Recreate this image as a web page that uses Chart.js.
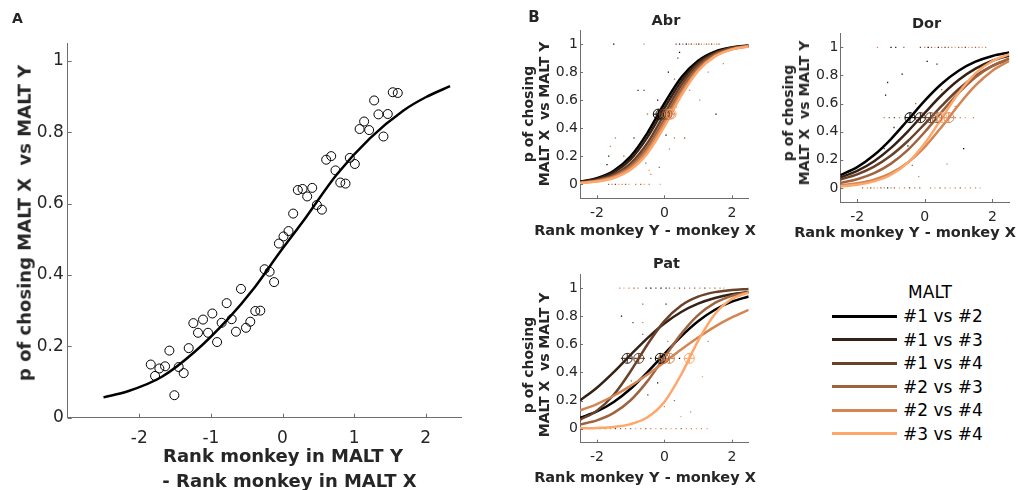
<!DOCTYPE html>
<html>
<head>
<meta charset="utf-8">
<script src="https://cdn.jsdelivr.net/npm/chart.js@4/dist/chart.umd.min.js"></script>
<style>
body { margin:0; background:#fff; width:1018px; height:490px; position:relative; overflow:hidden; font-family:"DejaVu Sans", Verdana, sans-serif; color:#262626; }
canvas { position:absolute; }
.t { position:absolute; transform:translate(-50%,-50%); white-space:pre; line-height:1.15; text-align:center; }
.b { font-weight:bold; }
.rot { transform:translate(-50%,-50%) rotate(-90deg); }
.ll { position:absolute; height:3px; left:832px; width:65px; }
.lt { position:absolute; left:903px; transform:translate(0,-50%); font-size:17px; white-space:pre; color:#000; }
</style>
</head>
<body>
<canvas id="chartA" width="480" height="490" style="left:0;top:0"></canvas>
<canvas id="chartAbr" width="260" height="250" style="left:500px;top:0"></canvas>
<canvas id="chartDor" width="258" height="250" style="left:760px;top:0"></canvas>
<canvas id="chartPat" width="260" height="240" style="left:500px;top:250px"></canvas>

<div class="t b" style="left:17.5px;top:18px;font-size:14px">A</div>
<div class="t b" style="left:534px;top:17.5px;font-size:15px">B</div>

<div class="t b rot" style="left:25px;top:223px;font-size:18px">p of chosing MALT X  vs MALT Y</div>
<div class="t b" style="left:283px;top:456px;font-size:18px">Rank monkey in MALT Y</div>
<div class="t b" style="left:289.5px;top:481px;font-size:18px">- Rank monkey in MALT X</div>

<div class="t b" style="left:666px;top:20px;font-size:14.5px">Abr</div>
<div class="t b" style="left:926.5px;top:22.5px;font-size:14.5px">Dor</div>
<div class="t b" style="left:666.5px;top:263px;font-size:14.5px">Pat</div>

<div class="t b rot" style="left:535.5px;top:114px;font-size:14px;line-height:16px">p of chosing<br>MALT X  vs MALT Y</div>
<div class="t b rot" style="left:795.5px;top:113px;font-size:14px;line-height:16px">p of chosing<br>MALT X  vs MALT Y</div>
<div class="t b rot" style="left:535.5px;top:365px;font-size:14px;line-height:16px">p of chosing<br>MALT X  vs MALT Y</div>

<div class="t b" style="left:645px;top:230px;font-size:14.5px">Rank monkey Y - monkey X</div>
<div class="t b" style="left:905px;top:231.7px;font-size:14.5px">Rank monkey Y - monkey X</div>
<div class="t b" style="left:645px;top:476.7px;font-size:14.5px">Rank monkey Y - monkey X</div>

<div id="legend"></div>

<script>
// ---- data ----
// panel A: pooled choice data and fitted curve
const aDiff = [-1.84, -1.78, -1.72, -1.64, -1.58, -1.51, -1.45, -1.38, -1.31, -1.245, -1.18, -1.11, -1.04, -0.98, -0.914, -0.85, -0.78, -0.71, -0.65, -0.58, -0.51, -0.45, -0.38, -0.31, -0.25, -0.18, -0.117, -0.05, 0.014, 0.084, 0.149, 0.214, 0.28, 0.345, 0.415, 0.48, 0.55, 0.61, 0.68, 0.74, 0.807, 0.88, 0.94, 1.01, 1.077, 1.14, 1.21, 1.28, 1.34, 1.41, 1.47, 1.54, 1.61];
const aPChoose = [0.149, 0.117, 0.138, 0.144, 0.188, 0.063, 0.142, 0.125, 0.195, 0.265, 0.238, 0.275, 0.238, 0.292, 0.212, 0.266, 0.321, 0.276, 0.241, 0.361, 0.252, 0.269, 0.299, 0.300, 0.416, 0.409, 0.380, 0.488, 0.508, 0.523, 0.572, 0.638, 0.641, 0.620, 0.644, 0.596, 0.583, 0.723, 0.733, 0.693, 0.659, 0.656, 0.728, 0.711, 0.809, 0.830, 0.806, 0.889, 0.850, 0.788, 0.851, 0.912, 0.910];
const aFitX = [-2.5, -2.16, -1.69, -1.23, -0.76, -0.39, -0.05, 0.29, 0.755, 1.22, 1.69, 2.0, 2.34];
const aFitY = [0.057, 0.074, 0.114, 0.184, 0.277, 0.365, 0.46, 0.551, 0.681, 0.783, 0.861, 0.898, 0.929];
const aXTicks = [-2, -1, 0, 1, 2];
const aYTicks = [0, 0.2, 0.4, 0.6, 0.8, 1];

// panel B: one fitted curve per MALT pair, sampled on fitX
const pairs = ['#1 vs #2', '#1 vs #3', '#1 vs #4', '#2 vs #3', '#2 vs #4', '#3 vs #4'];
const fitX = [-2.5, -2, -1.5, -1, -0.5, 0, 0.5, 1, 1.5, 2, 2.5];
const bXTicks = [-2, 0, 2];
const bYTicks = [0, 0.2, 0.4, 0.6, 0.8, 1];

const abrFits = [
  [0.019, 0.043, 0.096, 0.199, 0.367, 0.576, 0.761, 0.881, 0.946, 0.976, 0.990],
  [0.017, 0.038, 0.085, 0.178, 0.336, 0.542, 0.735, 0.867, 0.938, 0.973, 0.988],
  [0.012, 0.029, 0.068, 0.148, 0.294, 0.500, 0.706, 0.852, 0.932, 0.971, 0.988],
  [0.011, 0.026, 0.059, 0.131, 0.266, 0.465, 0.676, 0.833, 0.923, 0.966, 0.986],
  [0.010, 0.023, 0.053, 0.118, 0.243, 0.435, 0.649, 0.816, 0.914, 0.962, 0.984],
  [0.008, 0.019, 0.045, 0.103, 0.221, 0.411, 0.632, 0.808, 0.912, 0.962, 0.984]
];
const abrMid = [-0.18, -0.1, 0, 0.08, 0.15, 0.2];
const abrDotX = [-1.5, -0.6, 0.35, 0.45, 0.55, 0.65, 0.72, 0.8, 0.88, 0.95, 1.02, 1.1, 1.18, 1.25, 1.32, 1.4, 1.48, 1.55, 1.62,
  -1.65, -1.55, -1.45, -1.35, -1.25, -1.15, -1.05, -0.85, -0.7, -0.6, -0.45, -0.12,
  0.45, 0.4, 0.95, 1.3, 1.75, 0.12, 0.3, -0.78, -0.6, 0.75, 1.05, -0.2, -0.5, 1.53, 0.35, -0.1, 0.1, -0.9, -1.45, -0.3, 0.3, 0.6, 0.05, -1.6, -1.65, -1.2, -0.9, -0.55, -0.45, -0.4, -0.15, -1.7, 0.15];
const abrDotY = [1, 1, 1, 1, 1, 1, 1, 1, 1, 1, 1, 1, 1, 1, 1, 1, 1, 1, 1,
  0, 0, 0, 0, 0, 0, 0, 0, 0, 0, 0, 0,
  0.94, 0.9, 0.85, 0.8, 0.86, 0.8, 0.75, 0.67, 0.67, 0.67, 0.6, 0.6, 0.5, 0.5, 0.55, 0.55, 0.45, 0.33, 0.33, 0.35, 0.33, 0.33, 0.35, 0.27, 0.2, 0.2, 0.2, 0.15, 0.1, 0.07, 0.12, 0.14, 0.25];
const abrDotPair = [0, 4, 2, 1, 3, 0, 4, 2, 5, 3, 1, 4, 5, 3, 4, 2, 5, 4, 3,
  3, 4, 2, 5, 4, 3, 5, 4, 3, 5, 4, 5,
  0, 2, 3, 4, 4, 0, 3, 1, 2, 4, 4, 0, 3, 0, 4, 5, 5, 2, 4, 3, 4, 3, 0, 4, 1, 3, 4, 3, 5, 4, 3, 0, 4];

const dorFits = [
  [0.091, 0.148, 0.234, 0.348, 0.483, 0.621, 0.741, 0.834, 0.898, 0.939, 0.964],
  [0.075, 0.121, 0.190, 0.285, 0.403, 0.534, 0.661, 0.768, 0.849, 0.905, 0.942],
  [0.060, 0.097, 0.152, 0.231, 0.334, 0.456, 0.584, 0.702, 0.797, 0.868, 0.917],
  [0.036, 0.062, 0.105, 0.173, 0.271, 0.398, 0.540, 0.676, 0.788, 0.868, 0.921],
  [0.018, 0.033, 0.059, 0.106, 0.181, 0.292, 0.435, 0.590, 0.729, 0.834, 0.904],
  [0.011, 0.023, 0.047, 0.094, 0.180, 0.318, 0.496, 0.676, 0.815, 0.903, 0.952]
];
const dorMid = [-0.44, -0.13, 0.17, 0.36, 0.71, 0.51];
const dorDotX = [-1.4, -1.0, -0.86, -0.62, -0.13, 0.0, 0.1, 0.2, 0.3, 0.4, 0.5, 0.6, 0.7, 0.8, 0.9, 1.0, 1.1, 1.2, 1.3, 1.4, 1.5, 1.6, 1.7, 1.8,
  -1.84, -1.7, -1.6, -1.5, -1.4, -1.3, -1.2, -1.1, -1.0, -0.9, -0.75, -0.6, -0.45, -0.3, -0.15, 0.17, 0.3, 0.45, 0.6, 0.75, 0.9, 1.05, 1.2, 1.35, 1.5, 1.64,
  -1.2, -1.05, -0.9, -0.75, -0.3, 0.0, 0.1, 0.25, 0.45, 0.6, 0.9, 1.05, 1.2, 1.44,
  0.07, 0.36, -0.67, -1.1, -0.27, -1.16, -0.91, -1.2, 0.66, 1.15, 0.9, -0.37, -0.18, -0.96, 0.5, 1.3, -0.5, 0.2];
const dorDotY = [1, 1, 1, 1, 1, 1, 1, 1, 1, 1, 1, 1, 1, 1, 1, 1, 1, 1, 1, 1, 1, 1, 1, 1,
  0, 0, 0, 0, 0, 0, 0, 0, 0, 0, 0, 0, 0, 0, 0, 0, 0, 0, 0, 0, 0, 0, 0, 0, 0, 0,
  0.5, 0.5, 0.5, 0.5, 0.5, 0.5, 0.5, 0.5, 0.5, 0.5, 0.5, 0.5, 0.5, 0.5,
  0.9, 0.88, 0.81, 0.75, 0.6, 0.66, 0.43, 0.28, 0.17, 0.28, 0.58, 0.16, 0.08, 0.115, 0.7, 0.75, 0.3, 0.35];
const dorDotPair = [4, 0, 1, 3, 2, 4, 0, 3, 5, 1, 4, 2, 3, 4, 5, 3, 4, 2, 5, 4, 3, 4, 5, 4,
  3, 4, 2, 4, 5, 3, 4, 1, 4, 3, 5, 4, 2, 4, 3, 4, 5, 3, 4, 5, 4, 3, 5, 4, 4, 5,
  4, 3, 2, 4, 1, 2, 3, 4, 5, 4, 3, 4, 5, 4,
  0, 1, 0, 1, 3, 0, 1, 2, 4, 0, 4, 3, 4, 2, 3, 4, 0, 5];

const patFits = [
  [0.076, 0.122, 0.190, 0.284, 0.402, 0.531, 0.657, 0.764, 0.846, 0.903, 0.940],
  [0.200, 0.291, 0.402, 0.525, 0.644, 0.748, 0.830, 0.889, 0.929, 0.956, 0.972],
  [0.063, 0.128, 0.241, 0.408, 0.599, 0.765, 0.876, 0.939, 0.971, 0.986, 0.994],
  [0.030, 0.059, 0.112, 0.202, 0.338, 0.507, 0.674, 0.807, 0.894, 0.944, 0.971],
  [0.129, 0.175, 0.234, 0.304, 0.385, 0.473, 0.563, 0.648, 0.726, 0.791, 0.845],
  [0.002, 0.005, 0.012, 0.032, 0.081, 0.190, 0.385, 0.625, 0.816, 0.922, 0.969]
];
const patMid = [-0.12, -1.1, -0.76, -0.02, 0.15, 0.74];
const patDotX = [-1.32, -1.2, -1.05, -0.9, -0.78, -0.54, -0.4, -0.25, -0.1, 0.05, 0.15, 0.3, 0.45, 0.6, 0.75, 0.9, 1.05, 1.2, 1.35, 1.5, 1.65, 1.76,
  -1.91, -1.75, -1.6, -1.45, -1.3, -1.15, -1.0, -0.85, -0.7, -0.55, -0.4, -0.25, -0.1, 0.05, 0.2, 0.35, 0.5, 0.65, 0.8, 0.95, 1.1, 1.27,
  -1.27, -1.0, -0.85, -0.6, -0.4, -0.25, 0.05, 0.25, 0.45, 0.6, 0.78,
  -0.64, 0.05, -0.64, -0.93, -1.27, -0.64, 0.1, -0.98, -0.2, 0.49, 1.13, -0.49, 0, 0.49, 0.78, 1.3, 0.3];
const patDotY = [1, 1, 1, 1, 1, 1, 1, 1, 1, 1, 1, 1, 1, 1, 1, 1, 1, 1, 1, 1, 1, 1,
  0, 0, 0, 0, 0, 0, 0, 0, 0, 0, 0, 0, 0, 0, 0, 0, 0, 0, 0, 0, 0, 0,
  0.5, 0.5, 0.5, 0.5, 0.5, 0.5, 0.5, 0.5, 0.5, 0.5, 0.5,
  0.886, 0.886, 0.754, 0.754, 0.8, 0.67, 0.62, 0.34, 0.325, 0.385, 0.37, 0.24, 0.157, 0.086, 0.12, 0.62, 0.2];
const patDotPair = [4, 5, 4, 3, 4, 1, 0, 2, 0, 1, 3, 4, 2, 3, 4, 3, 4, 2, 4, 3, 4, 5,
  1, 3, 4, 2, 3, 4, 3, 5, 4, 3, 4, 5, 3, 4, 5, 4, 3, 5, 4, 5, 4, 5,
  2, 0, 3, 1, 0, 2, 3, 4, 0, 4, 5,
  3, 1, 4, 2, 0, 3, 4, 3, 0, 4, 5, 2, 4, 5, 4, 4, 3];

// ---- styles ----
const FONT = '"DejaVu Sans", Verdana, sans-serif';
const TEXT_COLOR = '#262626';
const AXIS_COLOR = '#6e6e6e';
const pairColors = ['#000000', '#352115', '#6a422a', '#9f643f', '#d48554', '#ffa66a'];

// MATLAB style ticks pointing into the plot
const innerTicks = {
  id: 'innerTicks',
  afterDraw(chart, args, opts) {
    const { ctx, chartArea, scales } = chart;
    ctx.save();
    ctx.strokeStyle = AXIS_COLOR;
    ctx.lineWidth = 1;
    ctx.beginPath();
    scales.x.ticks.forEach(t => {
      const px = Math.round(scales.x.getPixelForValue(t.value)) + 0.5;
      ctx.moveTo(px, chartArea.bottom);
      ctx.lineTo(px, chartArea.bottom - opts.len);
    });
    scales.y.ticks.forEach(t => {
      const py = Math.round(scales.y.getPixelForValue(t.value)) + 0.5;
      ctx.moveTo(chartArea.left, py);
      ctx.lineTo(chartArea.left + opts.len, py);
    });
    ctx.stroke();
    ctx.restore();
  }
};
Chart.register(innerTicks);

function axisOptions(o) {
  const tickFont = { family: FONT, size: o.font };
  return {
    responsive: false,
    animation: false,
    events: [],
    layout: { padding: { top: o.top, right: o.right, left: 0, bottom: 0 } },
    plugins: { legend: { display: false }, tooltip: { enabled: false }, innerTicks: { len: o.tick } },
    scales: {
      x: {
        type: 'linear', min: o.xMin, max: o.xMax,
        grid: { display: false, drawTicks: false },
        border: { display: true, color: AXIS_COLOR, width: 1 },
        ticks: { font: tickFont, color: TEXT_COLOR, padding: o.xPad, maxRotation: 0, autoSkip: false, callback: v => String(v) },
        afterBuildTicks: s => { s.ticks = o.xTicks.map(v => ({ value: v })); },
        afterFit: s => { s.height = o.xH; }
      },
      y: {
        type: 'linear', min: o.yMin, max: o.yMax,
        grid: { display: false, drawTicks: false },
        border: { display: true, color: AXIS_COLOR, width: 1 },
        ticks: { font: tickFont, color: TEXT_COLOR, padding: o.yPad, autoSkip: false, callback: v => String(v) },
        afterBuildTicks: s => { s.ticks = o.yTicks.map(v => ({ value: v })); },
        afterFit: s => { s.width = o.yW; }
      }
    }
  };
}

// ---- panel A ----
new Chart(document.getElementById('chartA'), {
  type: 'scatter',
  data: {
    datasets: [
      {
        type: 'line',
        data: aFitX.map((x, i) => ({ x: x, y: aFitY[i] })),
        borderColor: '#000', borderWidth: 2.5, pointRadius: 0,
        cubicInterpolationMode: 'monotone', fill: false, order: 0
      },
      {
        data: aDiff.map((x, i) => ({ x: x, y: aPChoose[i] })),
        pointStyle: 'circle', pointRadius: 4.5, borderColor: '#000',
        backgroundColor: 'rgba(0,0,0,0)', borderWidth: 1, order: 1
      }
    ]
  },
  options: axisOptions({
    xMin: -3, xMax: 2.5, yMin: 0, yMax: 1.05, xTicks: aXTicks, yTicks: aYTicks,
    font: 17, yW: 67.7, xH: 72.3, top: 43, right: 18.5, xPad: 10.4, yPad: 4, tick: 4
  })
});

// ---- panel B ----
function monkeyChart(id, fits, mids, dotX, dotY, dotPair, geo) {
  const datasets = [];
  // crossed circles at the 50% point of each fit
  datasets.push({
    data: mids.map(x => ({ x: x, y: 0.5 })), pointStyle: 'circle', pointRadius: 5,
    borderColor: pairColors, backgroundColor: 'rgba(0,0,0,0)', borderWidth: 1, order: 0
  });
  datasets.push({
    data: mids.map(x => ({ x: x, y: 0.5 })), pointStyle: 'cross', pointRadius: 5,
    borderColor: pairColors, borderWidth: 1, order: 1
  });
  fits.forEach((ys, p) => {
    datasets.push({
      type: 'line', label: pairs[p],
      data: fitX.map((x, i) => ({ x: x, y: ys[i] })),
      borderColor: pairColors[p], borderWidth: 2.5, pointRadius: 0,
      cubicInterpolationMode: 'monotone', fill: false, order: 10 - p
    });
  });
  datasets.push({
    data: dotX.map((x, i) => ({ x: x, y: dotY[i] })), pointStyle: 'rect', pointRadius: 0.9,
    backgroundColor: dotPair.map(p => pairColors[p]), borderWidth: 0, order: 20
  });
  new Chart(document.getElementById(id), {
    type: 'scatter',
    data: { datasets: datasets },
    options: axisOptions(Object.assign({
      xMin: -2.5, xMax: 2.5, yMin: -0.1, yMax: 1.1, xTicks: bXTicks, yTicks: bYTicks,
      font: 14, xPad: 6.6, yPad: 2, tick: 3
    }, geo))
  });
}

monkeyChart('chartAbr', abrFits, abrMid, abrDotX, abrDotY, abrDotPair, { yW: 80, xH: 51.7, top: 30, right: 11.3 });
monkeyChart('chartDor', dorFits, dorMid, dorDotX, dorDotY, dorDotPair, { yW: 80.3, xH: 48, top: 33.3, right: 8.7 });
monkeyChart('chartPat', patFits, patMid, patDotX, patDotY, patDotPair, { yW: 80, xH: 47.3, top: 24, right: 11.3 });

// ---- legend ----
const legendRows = [316.3, 339.7, 363, 386.7, 410.3, 433.7];
let html = '<div class="t" style="left:930px;top:293.3px;font-size:17px;color:#000">MALT</div>';
pairs.forEach((name, i) => {
  html += '<div class="ll" style="top:' + (legendRows[i] - 1.5) + 'px;background:' + pairColors[i] + '"></div>';
  html += '<div class="lt" style="top:' + legendRows[i] + 'px">' + name + '</div>';
});
document.getElementById('legend').innerHTML = html;
</script>
</body>
</html>
